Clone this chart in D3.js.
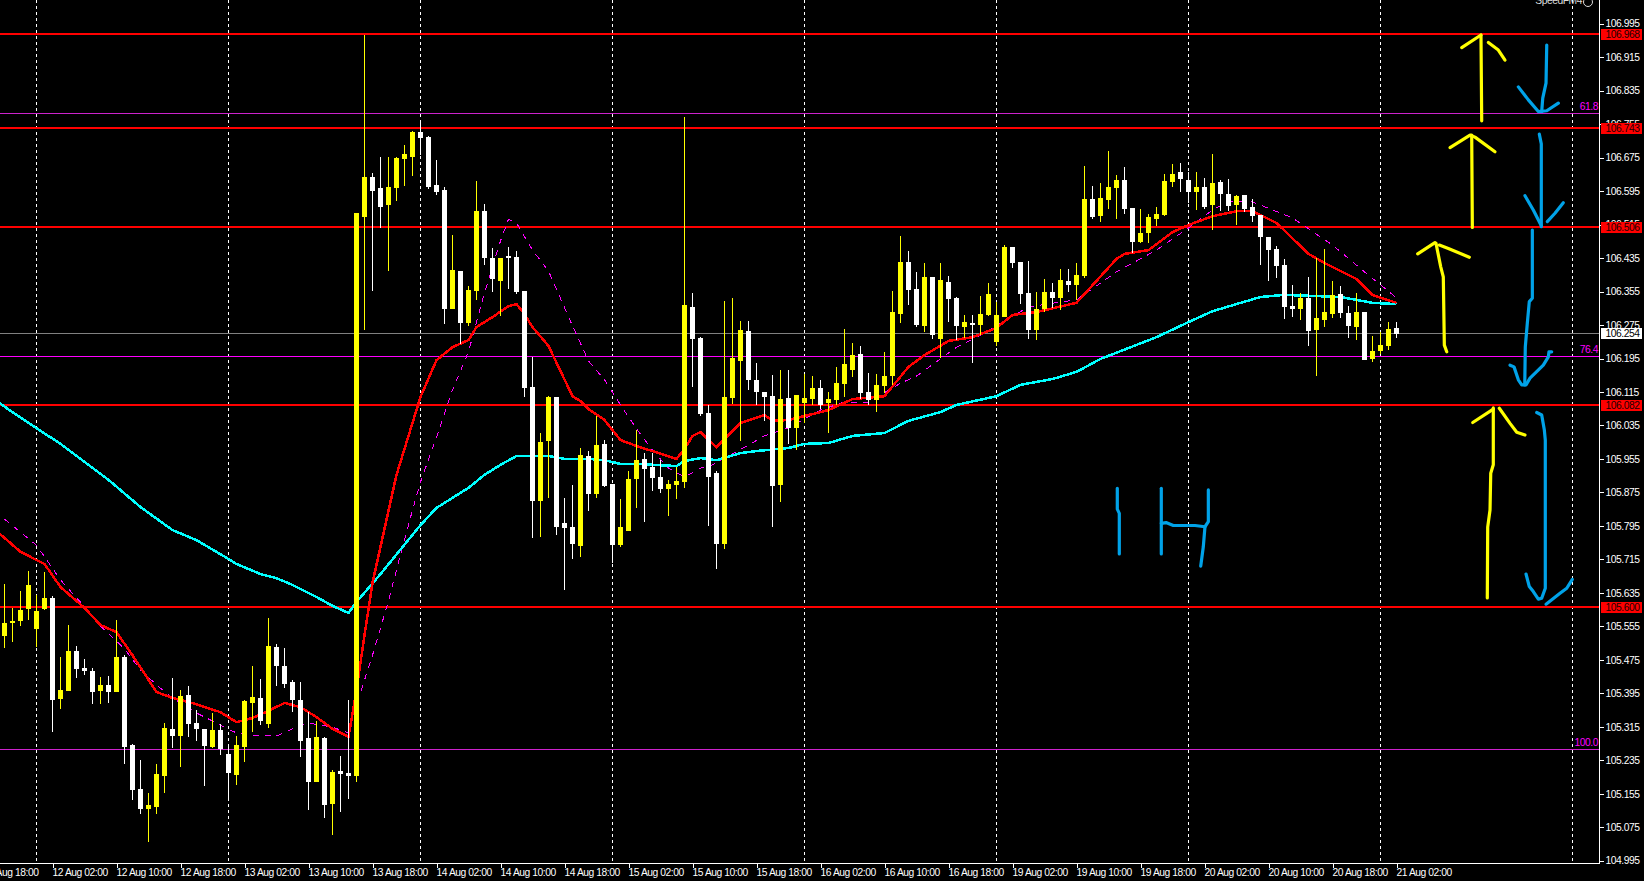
<!DOCTYPE html>
<html><head><meta charset="utf-8">
<script src="https://cdn.jsdelivr.net/npm/d3@7/dist/d3.min.js"></script>
<style>html,body{margin:0;padding:0;background:#000;overflow:hidden}svg{display:block}
text{font-family:"Liberation Sans",Arial,sans-serif;font-size:10.3px;letter-spacing:-0.45px}</style>
</head><body><svg id="c" width="1644" height="881"></svg>
<script>
const opens=[105.532,105.564,105.568,105.596,105.548,105.596,105.623,105.381,105.400,105.496,
105.455,105.448,105.400,105.415,105.398,105.482,105.271,105.166,105.118,105.123,
105.197,105.309,105.293,105.391,105.324,105.309,105.266,105.307,105.250,105.200,
105.266,105.372,105.384,105.321,105.505,105.460,105.422,105.379,105.288,105.183,
105.288,105.130,105.209,105.204,105.197,106.533,106.629,106.603,106.562,106.603,
106.672,106.677,106.737,106.725,106.610,106.598,106.314,106.404,106.280,106.357,
106.548,106.435,106.381,106.439,106.438,106.357,106.127,105.855,105.998,106.103,
105.802,105.793,105.747,105.962,105.872,105.991,105.895,105.750,105.783,105.907,
105.955,105.936,105.912,105.883,105.893,105.900,106.318,106.244,106.065,105.922,
105.752,106.101,106.189,106.261,106.144,106.115,106.106,105.893,106.101,106.029,
106.089,106.098,106.125,106.089,106.096,106.134,106.168,106.206,106.115,106.096,
106.129,106.153,106.301,106.426,106.361,106.273,106.390,106.242,106.378,106.340,
106.270,106.280,106.275,106.299,106.234,106.294,106.461,106.426,106.352,106.263,
106.313,106.354,106.340,106.380,106.371,106.392,106.576,106.536,106.574,106.602,
106.622,106.555,106.473,106.495,106.528,106.538,106.617,106.641,106.622,106.593,
106.605,106.562,106.617,106.588,106.562,106.586,106.557,106.538,106.485,106.457,
106.418,106.320,106.313,106.340,106.263,106.287,106.301,106.349,106.304,106.270,
106.306,106.194,106.213,106.225,106.268];
const highs=[105.656,105.599,105.639,105.687,105.630,105.685,105.627,105.482,105.558,105.508,
105.477,105.455,105.434,105.436,105.570,105.486,105.274,105.235,105.157,105.226,
105.324,105.431,105.403,105.412,105.355,105.309,105.348,105.321,105.269,105.293,
105.379,105.460,105.429,105.575,105.513,105.503,105.427,105.422,105.350,105.329,
105.290,105.212,105.245,105.379,106.542,106.968,106.639,106.677,106.677,106.677,
106.705,106.739,106.760,106.727,106.670,106.605,106.490,106.404,106.369,106.619,
106.564,106.459,106.435,106.462,106.452,106.357,106.199,106.017,106.106,106.103,
105.862,105.893,105.981,105.974,106.058,106.001,105.895,105.860,105.927,106.024,
105.969,105.969,105.953,105.905,105.936,106.772,106.352,106.247,106.084,105.927,
106.333,106.340,106.285,106.285,106.185,106.115,106.156,106.168,106.168,106.108,
106.158,106.153,106.144,106.115,106.175,106.265,106.232,106.225,106.160,106.158,
106.211,106.356,106.488,106.452,106.402,106.423,106.390,106.423,106.392,106.342,
106.299,106.299,106.344,106.375,106.330,106.466,106.461,106.426,106.428,106.354,
106.385,106.375,106.409,106.409,106.423,106.655,106.607,106.614,106.691,106.633,
106.653,106.555,106.552,106.540,106.557,106.636,106.660,106.662,106.641,106.641,
106.626,106.684,106.622,106.624,106.586,106.586,106.576,106.538,106.485,106.464,
106.433,106.371,106.351,106.390,106.435,106.457,106.380,106.368,106.320,106.351,
106.306,106.249,106.258,106.282,106.282];
const lows=[105.504,105.518,105.556,105.570,105.506,105.594,105.302,105.357,105.400,105.431,
105.439,105.369,105.369,105.372,105.398,105.226,105.140,105.106,105.039,105.106,
105.157,105.264,105.219,105.290,105.281,105.173,105.264,105.247,105.145,105.176,
105.231,105.302,105.319,105.312,105.412,105.407,105.350,105.243,105.116,105.183,
105.097,105.056,105.111,105.142,105.183,106.263,106.357,106.507,106.404,106.572,
106.608,106.631,106.682,106.600,106.586,106.278,106.314,106.230,106.273,106.335,
106.419,106.354,106.297,106.361,106.349,106.103,105.766,105.769,105.862,105.774,
105.642,105.716,105.721,105.831,105.862,105.888,105.707,105.745,105.783,105.838,
105.805,105.879,105.874,105.819,105.860,105.886,106.127,106.058,105.795,105.692,
105.740,106.087,105.998,106.120,106.084,106.046,105.793,105.852,105.991,105.976,
106.040,106.084,106.074,106.017,106.084,106.104,106.151,106.098,106.084,106.067,
106.112,106.132,106.280,106.323,106.270,106.258,106.242,106.196,106.282,106.239,
106.244,106.184,106.251,106.297,106.225,106.294,106.411,106.325,106.242,106.239,
106.306,106.316,106.311,106.354,106.335,106.387,106.528,106.521,106.552,106.528,
106.540,106.447,106.471,106.471,106.512,106.536,106.605,106.593,106.567,106.550,
106.552,106.502,106.547,106.547,106.514,106.545,106.521,106.418,106.380,106.387,
106.289,106.294,106.287,106.225,106.153,106.270,106.292,106.292,106.244,106.239,
106.191,106.187,106.206,106.215,106.244];
const closes=[105.564,105.568,105.594,105.654,105.591,105.623,105.379,105.403,105.496,105.453,
105.448,105.398,105.415,105.398,105.482,105.266,105.164,105.118,105.128,105.202,
105.312,105.293,105.388,105.321,105.309,105.269,105.307,105.262,105.204,105.271,
105.376,105.386,105.329,105.508,105.460,105.417,105.379,105.281,105.183,105.290,
105.128,105.207,105.202,105.197,106.542,106.629,106.596,106.557,106.605,106.674,
106.684,106.737,106.722,106.605,106.593,106.314,106.407,106.280,106.359,106.548,
106.435,106.385,106.435,106.436,106.354,106.125,105.855,105.996,106.103,105.793,
105.790,105.752,105.965,105.872,105.989,105.891,105.750,105.793,105.907,105.953,
105.931,105.910,105.883,105.895,105.903,106.323,106.242,106.063,105.912,105.752,
106.103,106.197,106.263,106.144,106.115,106.103,105.891,106.099,106.029,106.108,
106.101,106.125,106.084,106.098,106.136,106.182,106.203,106.113,106.096,106.132,
106.153,106.306,106.426,106.359,106.275,106.390,106.251,106.383,106.337,106.273,
106.282,106.275,106.301,106.349,106.299,106.461,106.423,106.349,106.263,106.313,
106.354,106.340,106.383,106.371,106.395,106.576,106.533,106.579,106.605,106.622,
106.552,106.473,106.495,106.533,106.540,106.619,106.636,106.624,106.593,106.605,
106.557,106.614,106.588,106.559,106.583,106.552,106.536,106.485,106.454,106.416,
106.318,106.313,106.340,106.261,106.292,106.306,106.347,106.304,106.273,106.306,
106.191,106.213,106.227,106.265,106.254];

const cyanBars=[-1,3,7,13,17,21,24,28,29,32,34,36,39,41,43,44,47,52,54,58,60,62,64,66,68,70,73,75,77,79,84,85,87,89,92,94,98,100,103,106,110,113,117,119,124,127,131,134,137,144,148,151,154,157,160,167,171,174];
const cyanVals=[106.093,106.041,105.991,105.905,105.840,105.785,105.761,105.716,105.704,105.680,105.670,105.654,105.625,105.604,105.587,105.613,105.680,105.797,105.838,105.886,105.917,105.941,105.962,105.962,105.962,105.955,105.955,105.952,105.943,105.943,105.938,105.950,105.957,105.952,105.969,105.974,105.981,105.991,105.993,106.010,106.017,106.046,106.067,106.084,106.105,106.132,106.146,106.163,106.194,106.246,106.282,106.308,106.325,106.342,106.347,106.342,106.328,106.325];
const redBars=[-1,2,5,7,10,12,14,16,19,21,24,25,27,29,31,33,35,37,39,41,43,44,45,46,49,52,54,56,58,59,61,63,64,65,66,68,71,72,73,75,77,79,84,85,86,87,89,92,95,96,98,102,103,106,110,113,115,118,121,124,126,129,134,139,140,143,146,148,151,154,156,159,163,165,169,171,174];
const redVals=[105.783,105.733,105.704,105.649,105.599,105.558,105.541,105.486,105.398,105.384,105.369,105.362,105.350,105.326,105.336,105.353,105.372,105.362,105.338,105.310,105.291,105.403,105.534,105.659,105.917,106.103,106.191,106.222,106.239,106.270,106.294,106.320,106.325,106.301,106.270,106.225,106.105,106.093,106.074,106.048,106.000,105.986,105.955,105.979,106.010,106.019,105.983,106.041,106.060,106.046,106.048,106.067,106.072,106.098,106.105,106.175,106.203,106.237,106.246,106.268,106.299,106.306,106.328,106.433,106.445,106.454,106.497,106.514,106.535,106.547,106.547,106.519,106.445,106.423,106.385,106.347,106.328];
const dashBars=[0,2,4,7,9,10,12,15,17,19,21,24,27,29,31,34,36,38,41,43,44,46,48,49,51,52,54,56,58,60,61,62,63,64,66,68,71,73,75,77,79,81,83,85,87,88,91,95,98,102,105,108,112,114,119,122,125,128,132,134,139,144,148,151,153,156,161,166,170,174];
const dashVals=[105.811,105.780,105.749,105.666,105.623,105.604,105.556,105.501,105.451,105.415,105.384,105.348,105.319,105.300,105.293,105.293,105.310,105.324,105.314,105.300,105.367,105.486,105.616,105.690,105.833,105.900,106.007,106.120,106.211,106.352,106.414,106.476,106.528,106.519,106.454,106.404,106.273,106.189,106.144,106.084,106.027,105.976,105.933,105.912,105.933,105.936,105.967,106.010,106.029,106.072,106.091,106.091,106.136,106.153,106.222,106.251,106.285,106.318,106.330,106.335,106.402,106.454,106.507,106.550,106.569,106.569,106.531,106.466,106.402,106.340];

const resistance=[106.968,106.743,106.506,106.082,105.600];
const fibValues=[106.781,106.200,105.261];
const fibLabels=["61.8","76.4","100.0"];
const lastPrice=106.254;
const priceTicks=[106.995,106.915,106.835,106.755,106.675,106.595,106.515,106.435,106.355,106.275,106.195,106.115,106.035,105.955,105.875,105.795,105.715,105.635,105.555,105.475,105.395,105.315,105.235,105.155,105.075,104.995];
const timeBars=[-2,6,14,22,30,38,46,54,62,70,78,86,94,102,110,118,126,134,142,150,158,166,174];
const timeLabels=["9 Aug 18:00","12 Aug 02:00","12 Aug 10:00","12 Aug 18:00","13 Aug 02:00","13 Aug 10:00","13 Aug 18:00","14 Aug 02:00","14 Aug 10:00","14 Aug 18:00","15 Aug 02:00","15 Aug 10:00","15 Aug 18:00","16 Aug 02:00","16 Aug 10:00","16 Aug 18:00","19 Aug 02:00","19 Aug 10:00","19 Aug 18:00","20 Aug 02:00","20 Aug 10:00","20 Aug 18:00","21 Aug 02:00"];
const gridBars=[4,28,52,76,100,124,148,172,196];

// hand-drawn annotation strokes, as [bar, price] pairs
const yellowStrokes=[
[[184.65,106.763],[184.56,106.968]],
[[182.15,106.938],[184.56,106.968]],
[[185.48,106.950],[186.73,106.932],[187.56,106.908]],
[[183.48,106.508],[183.40,106.729]],
[[180.69,106.699],[183.19,106.729],[183.81,106.724],[186.31,106.689]],
[[180.28,106.211],[179.98,106.227],[179.85,106.390],[179.53,106.414],[178.94,106.470]],
[[176.65,106.445],[178.81,106.472]],
[[179.35,106.466],[180.48,106.458],[183.10,106.437]],
[[186.10,106.077],[186.10,105.941],[185.78,105.921],[185.69,105.833],[185.40,105.792],[185.35,105.623]],
[[183.53,106.042],[186.10,106.074]],
[[186.85,106.076],[188.19,106.040],[189.03,106.019],[190.06,106.012]]];
const blueStrokes=[
[[192.78,106.944],[192.69,106.853],[192.28,106.817],[192.15,106.785]],
[[189.23,106.844],[190.48,106.813],[191.73,106.785],[192.78,106.787],[194.23,106.805]],
[[191.85,106.731],[192.10,106.708],[192.10,106.510]],
[[190.06,106.584],[191.10,106.550],[192.10,106.512]],
[[192.85,106.522],[193.81,106.542],[194.85,106.567]],
[[190.98,106.502],[190.98,106.339],[190.60,106.331],[190.35,106.279],[190.10,106.223],[190.03,106.132]],
[[188.19,106.179],[188.69,106.175],[189.23,106.144],[189.65,106.132],[190.19,106.132],[190.69,106.148],[192.35,106.179],[192.98,106.199],[193.06,106.211],[193.40,106.211]],
[[191.53,106.066],[192.15,106.060],[192.48,106.024],[192.60,106.000],[192.60,105.646],[192.15,105.622],[191.73,105.620],[191.10,105.638],[190.60,105.650],[190.19,105.680]],
[[192.69,105.608],[194.44,105.634],[195.28,105.646],[195.98,105.667]],
[[139.10,105.885],[139.10,105.835],[139.35,105.825],[139.35,105.728]],
[[144.60,105.885],[144.60,105.728]],
[[144.60,105.801],[145.19,105.803],[146.10,105.796],[148.81,105.796],[150.06,105.793]],
[[150.48,105.881],[150.48,105.805],[150.06,105.793],[149.85,105.745],[149.53,105.699]]];

const W=1644,H=881,axisX=1599.5,axisY=863.5;
const svg=d3.select("#c");
svg.append("rect").attr("width",W).attr("height",H).attr("fill","#000");
const x=d3.scaleLinear().domain([0,174]).range([4.5,1396.5]);
const y=d3.scaleLinear().domain([106.995,104.995]).range([23.7,860.7]);

// vertical separators
svg.append("g").selectAll("line").data(gridBars).join("line")
 .attr("x1",d=>x(d)).attr("x2",d=>x(d)).attr("y1",0).attr("y2",axisY)
 .attr("stroke","#fff").attr("stroke-dasharray","3,3").attr("shape-rendering","crispEdges");

// level lines
const hline=svg.append("g").attr("shape-rendering","crispEdges");
hline.selectAll(".fib").data(fibValues).join("line").attr("class","fib")
 .attr("x1",0).attr("x2",axisX).attr("y1",d=>Math.floor(y(d))+.5).attr("y2",d=>Math.floor(y(d))+.5)
 .attr("stroke",(d,i)=>i==1?"#ff00ff":"#cc22cc");
hline.append("line").attr("x1",0).attr("x2",axisX)
 .attr("y1",Math.floor(y(lastPrice))+.5).attr("y2",Math.floor(y(lastPrice))+.5).attr("stroke","#808080");
hline.selectAll(".res").data(resistance).join("line").attr("class","res")
 .attr("x1",0).attr("x2",axisX).attr("y1",d=>Math.round(y(d))-1).attr("y2",d=>Math.round(y(d))-1)
 .attr("stroke","#ff0000").attr("stroke-width",2);

// moving averages
const line=d3.line().x(d=>x(d[0])).y(d=>y(d[1]));
const maPath=(bars,vals)=>line(bars.map((b,i)=>[b,vals[i]]));
svg.append("path").attr("d",maPath(dashBars,dashVals)).attr("fill","none").attr("stroke","#ff00ff")
 .attr("stroke-width",1).attr("stroke-dasharray","6,6").attr("shape-rendering","crispEdges");
svg.append("path").attr("d",maPath(cyanBars,cyanVals)).attr("fill","none").attr("stroke","#00ffff")
 .attr("stroke-width",2.5).attr("shape-rendering","crispEdges");
svg.append("path").attr("d",maPath(redBars,redVals)).attr("fill","none").attr("stroke","#ff0000")
 .attr("stroke-width",2.5).attr("shape-rendering","crispEdges");

// candles
const idx=d3.range(opens.length);
const col=i=>closes[i]>=opens[i]?"#ffff00":"#ffffff";
const cg=svg.append("g").attr("shape-rendering","crispEdges");
cg.selectAll(".w").data(idx).join("rect").attr("class","w")
 .attr("x",i=>x(i)-.5).attr("width",1)
 .attr("y",i=>Math.round(y(highs[i]))).attr("height",i=>Math.max(1,Math.round(y(lows[i]))-Math.round(y(highs[i]))))
 .attr("fill",col);
cg.selectAll(".b").data(idx).join("rect").attr("class","b")
 .attr("x",i=>x(i)-2.5).attr("width",5)
 .attr("y",i=>Math.round(y(Math.max(opens[i],closes[i]))))
 .attr("height",i=>Math.max(1,Math.round(y(Math.min(opens[i],closes[i])))-Math.round(y(Math.max(opens[i],closes[i])))))
 .attr("fill",col);

// hand-drawn strokes
const sketch=d3.line().x(d=>x(d[0])).y(d=>y(d[1]));
const sg=svg.append("g").attr("fill","none").attr("stroke-width",3.2).attr("stroke-linecap","round").attr("stroke-linejoin","round");
sg.selectAll(".ys").data(yellowStrokes).join("path").attr("class","ys").attr("d",sketch).attr("stroke","#ffff00");
sg.selectAll(".bs").data(blueStrokes).join("path").attr("class","bs").attr("d",sketch).attr("stroke","#00a2e8");

// axes
const ay=svg.append("g").attr("transform",`translate(${axisX},0)`)
 .call(d3.axisRight(y).tickValues(priceTicks).tickFormat(d3.format(".3f")).tickSize(4).tickPadding(2));
const ax=svg.append("g").attr("transform",`translate(0,${axisY})`)
 .call(d3.axisBottom(x).tickValues(timeBars).tickFormat((d,i)=>timeLabels[i]).tickSize(4).tickPadding(1));
for(const g of [ay,ax]){g.select(".domain").remove();g.selectAll("line").attr("stroke","#fff").attr("shape-rendering","crispEdges");g.selectAll("text").attr("fill","#fff").style("font-family",'"Liberation Sans"').style("font-size","10.3px");}
ax.selectAll("text").attr("text-anchor","start").attr("dx",-0.5).attr("y",5).attr("dy","0.71em");
svg.append("g").attr("shape-rendering","crispEdges").call(g=>{
 g.append("line").attr("x1",axisX).attr("x2",axisX).attr("y1",0).attr("y2",axisY).attr("stroke","#fff");
 g.append("line").attr("x1",0).attr("x2",axisX).attr("y1",axisY).attr("y2",axisY).attr("stroke","#fff");
});

// fib labels
svg.append("g").selectAll("text").data(fibValues).join("text")
 .attr("x",1598).attr("y",d=>Math.round(y(d))-3).attr("text-anchor","end").attr("fill","#ff00ff").text((d,i)=>fibLabels[i]);

// price tags
const tags=svg.append("g");
const tagVals=resistance.concat([lastPrice]);
tags.selectAll("rect").data(tagVals).join("rect").attr("shape-rendering","crispEdges")
 .attr("x",1601).attr("width",41).attr("y",d=>Math.round(y(d))-6.5).attr("height",11)
 .attr("fill",d=>d===lastPrice?"#fff":"#ff0000");
tags.selectAll("text").data(tagVals).join("text")
 .attr("x",1605.5).attr("y",d=>Math.round(y(d))+3).attr("fill",d=>d===lastPrice?"#000":"#200000")
 .text(d=>d3.format(".3f")(d));

// indicator caption clipped at the window top
svg.append("text").attr("x",1582).attr("y",4).attr("text-anchor","end").attr("fill","#ddd").text("SpeedFM4");
svg.append("circle").attr("cx",1588).attr("cy",2).attr("r",4.5).attr("fill","none").attr("stroke","#ddd");
</script></body></html>
